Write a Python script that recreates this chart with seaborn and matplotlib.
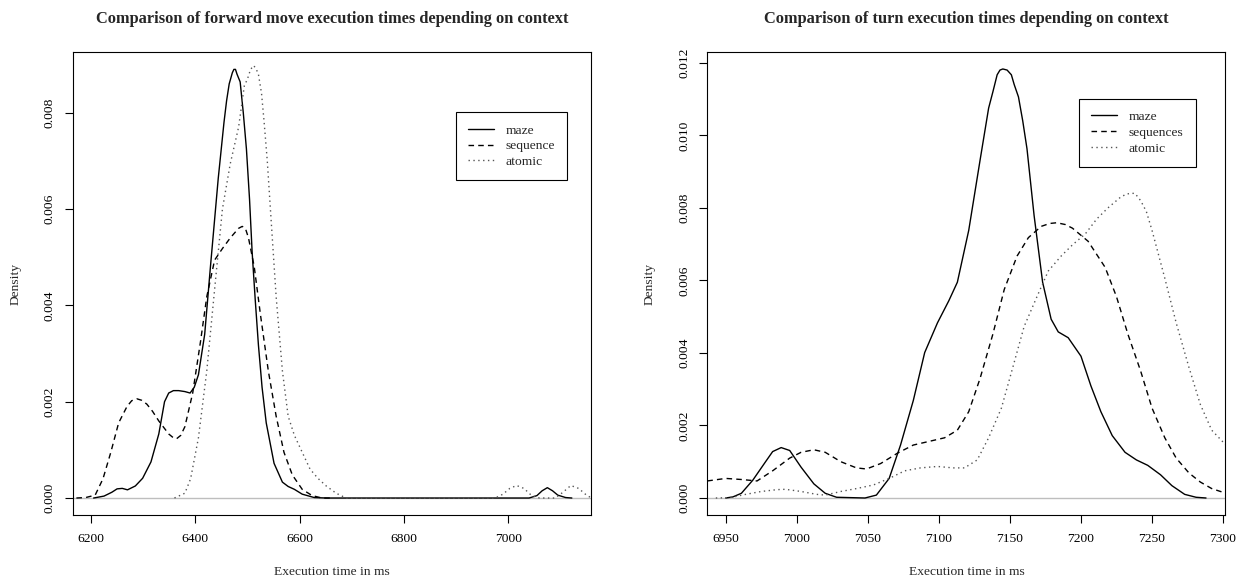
import numpy as np
import pandas as pd
import seaborn as sns
import matplotlib.pyplot as plt
from matplotlib.lines import Line2D

# curves (density estimates), forward moves
fwd_maze_x = [6205, 6225, 6240, 6250, 6260, 6270, 6285, 6299, 6315, 6330, 6341, 6349, 6358, 6368,
              6380, 6390, 6398, 6406, 6418, 6429, 6444, 6455, 6460, 6465, 6471, 6474, 6477, 6480,
              6486, 6492, 6498, 6504, 6509, 6515, 6521, 6528, 6536, 6551, 6567, 6578, 6590, 6605,
              6628, 6651, 6700, 6800, 6900, 7000, 7040, 7055, 7065, 7075, 7085, 7095, 7110, 7122]
fwd_maze_y = [0.0, 0.00004, 0.00012, 0.00019, 0.0002, 0.00017, 0.00025, 0.00041, 0.00075, 0.00133,
              0.0020, 0.00218, 0.00223, 0.00223, 0.00221, 0.00218, 0.0023, 0.00256, 0.0034, 0.0048,
              0.00664, 0.0078, 0.00825, 0.0086, 0.00883, 0.0089, 0.0089, 0.0088, 0.00864, 0.0080,
              0.00725, 0.0062, 0.0051, 0.0041, 0.00318, 0.0023, 0.00156, 0.00072, 0.00033, 0.00024,
              0.00018, 0.00008, 0.00001, 0.0, 0.0, 0.0, 0.0, 0.0, 0.0, 0.00005, 0.00015, 0.000215,
              0.00015, 0.00006, 0.00001, 0.0]

fwd_seq_x = [6172, 6190, 6208, 6223, 6238, 6253, 6269, 6278, 6288, 6297, 6307, 6318, 6330, 6349,
             6358, 6364, 6372, 6380, 6395, 6410, 6422, 6437, 6452, 6467, 6483, 6490, 6496, 6502,
             6513, 6525, 6540, 6555, 6570, 6586, 6605, 6624, 6643, 6665]
fwd_seq_y = [0.0, 0.00001, 0.00006, 0.0004, 0.00095, 0.00156, 0.0019, 0.00202, 0.00206, 0.00203,
             0.00195, 0.0018, 0.0016, 0.00133, 0.00125, 0.00123, 0.0013, 0.00148, 0.00218, 0.00325,
             0.00418, 0.00494, 0.00518, 0.0054, 0.0056, 0.00564, 0.0056, 0.0054, 0.0048, 0.0038,
             0.00264, 0.0017, 0.00095, 0.00048, 0.00018, 0.00005, 0.0, 0.0]

fwd_atom_x = [6360, 6380, 6391, 6406, 6422, 6437, 6452, 6467, 6483, 6494, 6500, 6506, 6512, 6517,
              6521, 6527, 6532, 6538, 6544, 6555, 6567, 6578, 6590, 6605, 6620, 6635, 6651, 6670,
              6689, 6800, 6900, 6975, 6990, 7003, 7016, 7030, 7045, 7060, 7090, 7105, 7120, 7135,
              7150, 7160]
fwd_atom_y = [0.0, 0.0001, 0.0004, 0.00125, 0.00264, 0.00433, 0.0060, 0.00694, 0.0077, 0.00856,
              0.0087, 0.0089, 0.00898, 0.0089, 0.0088, 0.0084, 0.0078, 0.0070, 0.0060, 0.00418,
              0.00264, 0.0017, 0.0013, 0.00095, 0.0006, 0.00041, 0.00025, 0.0001, 0.0, 0.0, 0.0,
              0.0, 0.00008, 0.0002, 0.00026, 0.0002, 0.00005, 0.0, 0.0, 0.00012, 0.00026, 0.0002,
              0.00006, 0.0]

# turns
turn_maze_x = [6950, 6955, 6961, 6969, 6978, 6983, 6989, 6995, 7003, 7012, 7020, 7028, 7048, 7056,
               7065, 7073, 7082, 7090, 7099, 7107, 7113, 7121, 7129, 7135, 7138, 7141, 7143, 7145,
               7148, 7151, 7153, 7156, 7159, 7162, 7167, 7173, 7179, 7184, 7191, 7200, 7207, 7214,
               7222, 7231, 7239, 7247, 7256, 7264, 7273, 7281, 7288]
turn_maze_y = [0.0, 0.00003, 0.00013, 0.00049, 0.0010, 0.00128, 0.00139, 0.00131, 0.00085, 0.00039,
               0.00013, 0.00002, 0.0, 0.00008, 0.00054, 0.00146, 0.00269, 0.00401, 0.00483, 0.00544,
               0.00595, 0.00738, 0.00932, 0.01075, 0.0112, 0.01167, 0.0118, 0.01183, 0.0118,
               0.01167, 0.0114, 0.01106, 0.0104, 0.00963, 0.00779, 0.00595, 0.00493, 0.00458,
               0.00442, 0.00391, 0.00309, 0.00238, 0.00172, 0.00126, 0.00105, 0.0009, 0.00064,
               0.00034, 0.0001, 0.00002, 0.0]

turn_seq_x = [6937, 6950, 6961, 6972, 6983, 6995, 7003, 7012, 7020, 7031, 7042, 7049, 7059, 7071,
              7082, 7093, 7104, 7113, 7121, 7129, 7138, 7146, 7155, 7163, 7172, 7178, 7183, 7189,
              7194, 7205, 7217, 7225, 7233, 7242, 7250, 7259, 7267, 7276, 7284, 7292, 7302]
turn_seq_y = [0.00047, 0.00054, 0.00051, 0.00047, 0.00075, 0.0011, 0.00126, 0.00133, 0.00126, 0.0010,
              0.00083, 0.0008, 0.00095, 0.00124, 0.00146, 0.00156, 0.00166, 0.00187, 0.00238, 0.0033,
              0.00452, 0.00575, 0.00667, 0.00718, 0.00749, 0.00757, 0.00759, 0.00754, 0.00744,
              0.00708, 0.00636, 0.00555, 0.00452, 0.0035, 0.00248, 0.00166, 0.0011, 0.00069,
              0.00044, 0.00026, 0.00013]

turn_atom_x = [6943, 6953, 6964, 6975, 6986, 6992, 7003, 7014, 7020, 7031, 7042, 7054, 7065, 7076,
               7087, 7099, 7110, 7118, 7127, 7135, 7144, 7152, 7160, 7169, 7177, 7186, 7194, 7203,
               7211, 7219, 7228, 7232, 7235, 7238, 7242, 7246, 7250, 7259, 7267, 7276, 7284, 7292,
               7302]
turn_atom_y = [0.0, 0.00001, 0.0001, 0.00018, 0.00023, 0.00024, 0.00018, 0.0001, 0.00008, 0.00018,
               0.00026, 0.00036, 0.00054, 0.00075, 0.00083, 0.00087, 0.00083, 0.00083, 0.00105,
               0.00166, 0.00248, 0.0036, 0.00473, 0.00555, 0.00626, 0.00667, 0.00698, 0.00728,
               0.00769, 0.0080, 0.0083, 0.00838, 0.0084, 0.0084, 0.0082, 0.0079, 0.00738, 0.00606,
               0.00483, 0.0036, 0.00258, 0.00187, 0.00146]

fwd_labels = ["maze", "sequence", "atomic"]
turn_labels = ["maze", "sequences", "atomic"]

sns.set_theme(style="white")
plt.rcParams['font.family'] = ['Liberation Serif', 'DejaVu Serif']
plt.rcParams['axes.edgecolor'] = 'black'
plt.rcParams['axes.linewidth'] = 0.8

styles = [dict(color="black", linestyle="-"),
          dict(color="black", linestyle=(0, (4, 3))),
          dict(color="#555555", linestyle=(0, (1, 2.5)))]

FS = 9.7


def panel(ax, curves, labels, title, xlim, ylim, xticks, yticks, leg_anchor):
    ax.axhline(0, color="#BEBEBE", lw=1.0, zorder=1)
    for (x, y), lab, st in zip(curves, labels, styles):
        df = pd.DataFrame({"x": x, "y": y})
        sns.lineplot(data=df, x="x", y="y", ax=ax, sort=False, estimator=None,
                     lw=1.0, zorder=2, **st)
    ax.set_xlim(*xlim)
    ax.set_ylim(*ylim)
    ax.set_xticks(xticks)
    ax.set_yticks(yticks)
    ax.set_yticklabels([f"{v:.3f}" for v in yticks], rotation=90, va="center")
    ax.tick_params(direction="out", length=5.5, width=0.8, pad=7, labelsize=FS,
                   bottom=True, left=True, colors="black")
    for s in ax.spines.values():
        s.set_visible(True)
        s.set_color("black")
    ax.set_xlabel("Execution time in ms", fontsize=FS, labelpad=15)
    ax.set_ylabel("Density", fontsize=FS, labelpad=16)
    ax.set_title(title, fontsize=11.8, fontweight="bold", pad=21)
    handles = [Line2D([], [], lw=1.0, **st) for st in styles]
    leg = ax.legend(handles, labels, loc="upper left", bbox_to_anchor=leg_anchor,
                    fontsize=FS, frameon=True, fancybox=False, edgecolor="black",
                    framealpha=1, handlelength=1.9, handletextpad=0.9,
                    labelspacing=0.25, borderpad=0.9, borderaxespad=0)
    leg.get_frame().set_linewidth(0.8)


fig = plt.figure(figsize=(12.51, 5.81), dpi=100)
ax1 = fig.add_axes([0.0584, 0.1129, 0.4141, 0.7981])
ax2 = fig.add_axes([0.5655, 0.1129, 0.4141, 0.7981])

panel(ax1, [(fwd_maze_x, fwd_maze_y), (fwd_seq_x, fwd_seq_y), (fwd_atom_x, fwd_atom_y)],
      fwd_labels, "Comparison of forward move execution times depending on context",
      (6165.6, 7158.9), (-0.000361, 0.009267),
      [6200, 6400, 6600, 6800, 7000], [0, 0.002, 0.004, 0.006, 0.008], (0.739, 0.870))

panel(ax2, [(turn_maze_x, turn_maze_y), (turn_seq_x, turn_seq_y), (turn_atom_x, turn_atom_y)],
      turn_labels, "Comparison of turn execution times depending on context",
      (6937.1, 7301.7), (-0.00048, 0.012306),
      [6950, 7000, 7050, 7100, 7150, 7200, 7250, 7300],
      [0, 0.002, 0.004, 0.006, 0.008, 0.010, 0.012], (0.717, 0.899))

fig.savefig("out.png", dpi=100)
